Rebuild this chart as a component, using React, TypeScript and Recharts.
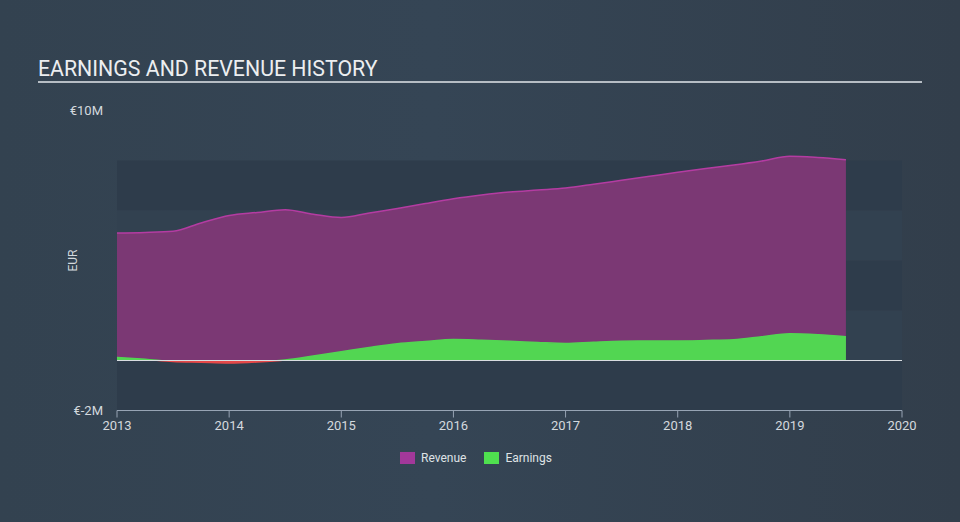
import { AreaChart, Area, XAxis, YAxis, ReferenceArea, ReferenceLine } from "recharts"

const years = [
  2013, 2013.25, 2013.5, 2013.75, 2014, 2014.25, 2014.5, 2014.75, 2015, 2015.25, 2015.5, 2015.75, 2016, 2016.25,
  2016.5, 2016.75, 2017, 2017.25, 2017.5, 2017.75, 2018, 2018.25, 2018.5, 2018.75, 2019, 2019.25, 2019.5,
]
const revenue = [
  5.1, 5.12, 5.17, 5.5, 5.8, 5.92, 6.03, 5.85, 5.72, 5.9, 6.08, 6.28, 6.47, 6.62, 6.74, 6.82, 6.9, 7.05, 7.21,
  7.37, 7.53, 7.68, 7.82, 7.98, 8.17, 8.12, 8.03,
]
const earnings = [
  0.12, 0.05, -0.04, -0.07, -0.1, -0.06, 0.02, 0.18, 0.35, 0.52, 0.67, 0.76, 0.84, 0.81, 0.77, 0.72, 0.68, 0.73,
  0.77, 0.78, 0.78, 0.8, 0.83, 0.95, 1.07, 1.03, 0.95,
]
const xTicks = [2013, 2014, 2015, 2016, 2017, 2018, 2019, 2020]
const yTicks = [-2, 10]
const darkBands = [
  [6, 8],
  [2, 4],
  [-2, 0],
]
const lightBands = [
  [4, 6],
  [0, 2],
]

const data = years.map((t, i) => ({ t, revenue: revenue[i], earnings: earnings[i] }))

const W = 960
const H = 522
const TOP = 110.5
const BOTTOM = 410.5
const Y_MIN = -2
const Y_MAX = 10
// pixel row of zero, used to split earnings colour
const zeroY = TOP + ((Y_MAX - 0) / (Y_MAX - Y_MIN)) * (BOTTOM - TOP)

const font = "Roboto, 'Open Sans', sans-serif"

function EurLabel(props: any) {
  const vb = props.viewBox || {}
  const x = 73
  const y = vb.y + vb.height / 2
  return (
    <text
      x={x}
      y={y}
      transform={`rotate(-90 ${x} ${y})`}
      textAnchor="middle"
      dominantBaseline="central"
      fill="#d4d9de"
      fontSize={12}
      fontFamily={font}
    >
      EUR
    </text>
  )
}

export default function App() {
  return (
    <div
      style={{
        position: "absolute",
        left: 0,
        top: 0,
        width: W,
        height: H,
        background: "linear-gradient(90deg, #334250 0%, #354555 45%, #323e4b 100%)",
        fontFamily: font,
        overflow: "hidden",
      }}
    >
      <div
        style={{
          position: "absolute",
          left: 38,
          top: 58,
          fontSize: 21.3,
          lineHeight: 1,
          color: "#eceef0",
          whiteSpace: "nowrap",
        }}
      >
        EARNINGS AND REVENUE HISTORY
      </div>
      <div style={{ position: "absolute", left: 38, top: 81, width: 884, height: 2, background: "#b6bdc4" }} />

      <div style={{ position: "absolute", left: 0, top: 0 }}>
        <AreaChart width={W} height={H} data={data} margin={{ top: TOP, right: 58, bottom: H - BOTTOM - 30, left: 0 }}>
          <defs>
            <linearGradient id="earnFill" gradientUnits="userSpaceOnUse" x1="0" y1="0" x2="0" y2={H}>
              <stop offset={0} stopColor="#52d652" />
              <stop offset={zeroY / H} stopColor="#52d652" />
              <stop offset={zeroY / H} stopColor="#e54848" />
              <stop offset={1} stopColor="#e54848" />
            </linearGradient>
          </defs>
          {darkBands.map(([a, b]) => (
            <ReferenceArea key={"d" + a} y1={a} y2={b} fill="#2e3c4b" fillOpacity={1} stroke="none" ifOverflow="visible" />
          ))}
          {lightBands.map(([a, b]) => (
            <ReferenceArea key={"l" + a} y1={a} y2={b} fill="#324150" fillOpacity={1} stroke="none" ifOverflow="visible" />
          ))}
          <XAxis
            dataKey="t"
            type="number"
            domain={[2013, 2020]}
            ticks={xTicks}
            height={30}
            interval={0}
            tick={{ fontSize: 13, fill: "#d4d9de", fontFamily: font }}
            tickSize={7}
            tickMargin={3}
            stroke="#97a4b4"
            tickLine={{ stroke: "#97a4b4" }}
            axisLine={{ stroke: "#97a4b4" }}
          />
          <YAxis
            type="number"
            domain={[Y_MIN, Y_MAX]}
            ticks={yTicks}
            width={117}
            interval={0}
            axisLine={false}
            tickLine={false}
            tickMargin={8}
            tick={{ fontSize: 13, fill: "#d4d9de", fontFamily: font }}
            tickFormatter={(v: number) => `€${v}M`}
            label={<EurLabel />}
          />
          <Area
            type="monotone"
            dataKey="revenue"
            stroke="#b43ca2"
            strokeWidth={1.5}
            fill="#7b3874"
            fillOpacity={1}
            baseValue={0}
            isAnimationActive={false}
            dot={false}
            activeDot={false}
          />
          <Area
            type="monotone"
            dataKey="earnings"
            stroke="url(#earnFill)"
            strokeWidth={1.5}
            fill="url(#earnFill)"
            fillOpacity={1}
            baseValue={0}
            isAnimationActive={false}
            dot={false}
            activeDot={false}
          />
          <ReferenceLine y={0} stroke="#d8dce0" strokeWidth={1} />
        </AreaChart>
      </div>

      <div
        style={{
          position: "absolute",
          left: 400,
          top: 451,
          display: "flex",
          alignItems: "center",
          fontSize: 12,
          color: "#dfe2e5",
          whiteSpace: "nowrap",
        }}
      >
        <span style={{ width: 15, height: 12, background: "#a2389a", display: "inline-block", marginRight: 6 }} />
        <span style={{ marginRight: 18 }}>Revenue</span>
        <span style={{ width: 15, height: 12, background: "#4fe04f", display: "inline-block", marginRight: 6 }} />
        <span>Earnings</span>
      </div>
    </div>
  )
}
